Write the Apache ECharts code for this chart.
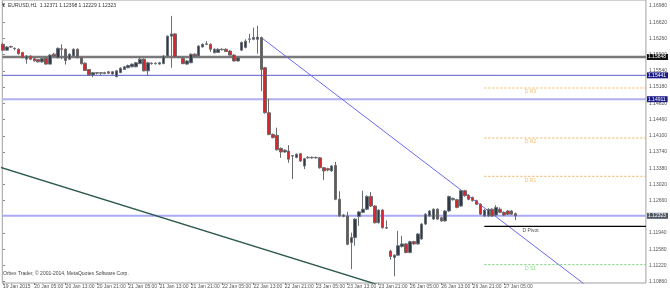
<!DOCTYPE html>
<html><head><meta charset="utf-8">
<script src="https://cdn.jsdelivr.net/npm/echarts@6/dist/echarts.min.js"></script>
<style>html,body{margin:0;padding:0;background:#fff}#c{width:670px;height:292px}</style>
</head><body><div id="c"></div>
<script>
// H1 candles, [open, high, low, close], bar index 0 = 19 Jan 21:00
const candles = [
[1.1613,1.1616,1.1598,1.1600],[1.1600,1.1609,1.1598,1.1607],[1.1608,1.1610,1.1605,1.1607],[1.1604,1.1606,1.1600,1.1603],
[1.1602,1.1604,1.1590,1.1592],[1.1595,1.1596,1.1582,1.1583],[1.1580,1.1589,1.1570,1.1587],[1.1587,1.1588,1.1578,1.1580],
[1.1581,1.1583,1.1575,1.1576],[1.1579,1.1580,1.1573,1.1574],[1.1574,1.1583,1.1572,1.1581],[1.1582,1.1583,1.1568,1.1569],
[1.1569,1.1591,1.1568,1.1589],[1.1591,1.1594,1.1585,1.1587],[1.1583,1.1606,1.1582,1.1604],[1.1603,1.1613,1.1580,1.1602],
[1.1602,1.1604,1.1568,1.1577],[1.1580,1.1593,1.1578,1.1591],[1.1587,1.1604,1.1585,1.1602],[1.1602,1.1604,1.1582,1.1583],
[1.1583,1.1585,1.1568,1.1570],[1.1571,1.1573,1.1554,1.1555],[1.1557,1.1558,1.1544,1.1545],[1.1545,1.1551,1.1540,1.1550],
[1.1550,1.1551,1.1546,1.1549],[1.1549,1.1551,1.1545,1.1550],[1.1550,1.1552,1.1547,1.1548],[1.1552,1.1553,1.1547,1.1549],
[1.1547,1.1553,1.1546,1.1552],[1.1541,1.1556,1.1540,1.1554],[1.1550,1.1562,1.1549,1.1560],[1.1557,1.1565,1.1556,1.1563],
[1.1561,1.1568,1.1560,1.1566],[1.1563,1.1570,1.1562,1.1569],[1.1563,1.1574,1.1562,1.1572],[1.1570,1.1587,1.1569,1.1580],
[1.1580,1.1582,1.1553,1.1554],[1.1554,1.1574,1.1543,1.1572],[1.1571,1.1573,1.1568,1.1570],[1.1570,1.1573,1.1568,1.1571],
[1.1569,1.1574,1.1568,1.1572],[1.1570,1.1589,1.1569,1.1587],[1.1587,1.1633,1.1585,1.1631],[1.1631,1.1676,1.1561,1.1636],
[1.1636,1.1638,1.1583,1.1585],[1.1585,1.1587,1.1582,1.1584],[1.1582,1.1585,1.1569,1.1570],[1.1569,1.1578,1.1567,1.1576],
[1.1572,1.1593,1.1571,1.1591],[1.1591,1.1593,1.1585,1.1587],[1.1587,1.1611,1.1586,1.1609],[1.1607,1.1615,1.1606,1.1613],
[1.1613,1.1620,1.1611,1.1614],[1.1613,1.1615,1.1596,1.1602],[1.1594,1.1604,1.1593,1.1602],[1.1595,1.1604,1.1594,1.1602],
[1.1602,1.1604,1.1599,1.1601],[1.1602,1.1604,1.1596,1.1597],[1.1598,1.1600,1.1588,1.1589],[1.1589,1.1591,1.1575,1.1576],
[1.1576,1.1585,1.1575,1.1583],[1.1600,1.1619,1.1598,1.1617],[1.1606,1.1624,1.1604,1.1620],[1.1624,1.1636,1.1616,1.1625],
[1.1624,1.1650,1.1622,1.1628],[1.1624,1.1654,1.1592,1.1629],[1.1628,1.1630,1.1509,1.1557],[1.1561,1.1563,1.1459,1.1461],
[1.1461,1.1492,1.1411,1.1413],[1.1413,1.1415,1.1404,1.1406],[1.1411,1.1428,1.1377,1.1379],[1.1382,1.1384,1.1361,1.1374],
[1.1374,1.1380,1.1372,1.1378],[1.1376,1.1389,1.1350,1.1358],[1.1366,1.1367,1.1314,1.1365],[1.1362,1.1371,1.1360,1.1369],
[1.1370,1.1372,1.1352,1.1354],[1.1343,1.1361,1.1336,1.1359],[1.1361,1.1365,1.1359,1.1362],[1.1362,1.1364,1.1359,1.1361],
[1.1361,1.1364,1.1359,1.1362],[1.1361,1.1363,1.1337,1.1339],[1.1339,1.1341,1.1312,1.1332],[1.1337,1.1339,1.1331,1.1334],
[1.1332,1.1345,1.1330,1.1343],[1.1344,1.1352,1.1267,1.1269],[1.1269,1.1287,1.1230,1.1232],[1.1231,1.1236,1.1229,1.1234],
[1.1232,1.1241,1.1167,1.1169],[1.1173,1.1195,1.1114,1.1184],[1.1184,1.1227,1.1166,1.1225],[1.1231,1.1243,1.1210,1.1241],
[1.1240,1.1288,1.1238,1.1247],[1.1247,1.1278,1.1245,1.1275],[1.1275,1.1285,1.1252,1.1254],[1.1254,1.1256,1.1215,1.1217],
[1.1217,1.1247,1.1215,1.1245],[1.1245,1.1247,1.1204,1.1206],[1.1206,1.1222,1.1203,1.1205],[1.1154,1.1157,1.1135,1.1142],
[1.1140,1.1147,1.1098,1.1145],[1.1145,1.1199,1.1143,1.1166],[1.1164,1.1188,1.1162,1.1170],[1.1170,1.1172,1.1149,1.1151],
[1.1151,1.1177,1.1149,1.1175],[1.1175,1.1177,1.1168,1.1170],[1.1170,1.1194,1.1168,1.1192],[1.1181,1.1216,1.1179,1.1214],
[1.1214,1.1238,1.1212,1.1236],[1.1232,1.1245,1.1230,1.1243],[1.1225,1.1249,1.1223,1.1247],[1.1247,1.1249,1.1223,1.1225],
[1.1228,1.1230,1.1219,1.1221],[1.1221,1.1245,1.1219,1.1243],[1.1243,1.1277,1.1241,1.1275],[1.1268,1.1273,1.1266,1.1271],
[1.1268,1.1270,1.1249,1.1251],[1.1254,1.1290,1.1252,1.1288],[1.1288,1.1290,1.1275,1.1277],[1.1278,1.1280,1.1267,1.1269],
[1.1273,1.1275,1.1264,1.1266],[1.1266,1.1268,1.1256,1.1258],[1.1258,1.1260,1.1234,1.1236],[1.1232,1.1247,1.1230,1.1245],
[1.1232,1.1249,1.1230,1.1247],[1.1247,1.1249,1.1230,1.1232],[1.1234,1.1256,1.1232,1.1251],[1.1247,1.1251,1.1238,1.1240],
[1.1240,1.1242,1.1232,1.1234],[1.1243,1.1245,1.1234,1.1236],[1.1243,1.1245,1.1234,1.1236],[1.12371,1.12398,1.12229,1.12323]
];
const symbolName = 'EURUSD,H1';
const timeTickIndex = [0,8,16,24,32,40,48,56,64,72,80,88,96,104,112,120,128];
const timeTickLabels = ['19 Jan 2015','20 Jan 05:00','20 Jan 13:00','20 Jan 21:00','21 Jan 05:00','21 Jan 13:00','21 Jan 21:00','22 Jan 05:00','22 Jan 13:00','22 Jan 21:00','23 Jan 05:00','23 Jan 13:00','23 Jan 21:00','26 Jan 05:00','26 Jan 13:00','26 Jan 21:00','27 Jan 05:00'];
const priceTicks = [1.16980,1.16620,1.16260,1.15900,1.15540,1.15180,1.14820,1.14460,1.14100,1.13740,1.13380,1.13020,1.12660,1.11940,1.11580,1.11220,1.10860];
const levelValues = [1.15848, 1.15441, 1.14911];
const pivotNames = ['D R3','D R2','D R1','D Pivot','D S1'];
const pivotValues = [1.1516, 1.1405, 1.1320, 1.1209, 1.1124];
const pivotStartIndex = 123;
const pivotLabelIndex = 134.8;
const blueTrend = [[66, 1.1628], [150, 1.1071]];
const greenTrend = [[-1, 1.1341], [100, 1.1068]];
const copyrightText = 'Orbex Trader, © 2001-2014, MetaQuotes Software Corp.';

const X_MIN = -0.18, X_MAX = 164.29;
const FONT = 'Liberation Sans, Arial, sans-serif';
const last = candles[candles.length - 1];
const current = last[3];
const f5 = v => v.toFixed(5);

const candleData = candles.map((c, i) => [i, c[0], c[3], c[2], c[1]]);

const levelStyles = [
  {line: {color: '#7a7a7a', width: 2.5}, bg: '#111111'},
  {line: {color: '#5c5cd0', width: 1}, bg: '#1c1c86'},
  {line: {color: '#b0b0f0', width: 2}, bg: '#1c1c86'},
  {line: {color: '#aaaaf6', width: 2}, bg: '#505a64'}
];
const levelAll = levelValues.concat([current]);
const levelSeries = levelAll.map((v, i) => ({
  type: 'line', data: [[X_MIN, v], [X_MAX, v]], symbol: 'none', silent: true, z: 1,
  clip: false,
  lineStyle: Object.assign({type: 'solid'}, levelStyles[i].line),
  endLabel: {show: true, distance: 1, formatter: f5(v), color: '#fff',
    backgroundColor: levelStyles[i].bg, padding: [1, 2, 0, 1], fontSize: 5, fontFamily: FONT}
}));

const pivotColors = ['#f5b04a','#f5b04a','#f5b04a','#000000','#6ad86a'];
const pivotSeries = [];
pivotValues.forEach((v, i) => {
  const isPivot = pivotNames[i] === 'D Pivot';
  pivotSeries.push({
    type: 'line', data: [[pivotStartIndex, v], [X_MAX, v]], symbol: 'none', silent: true, z: 2,
    lineStyle: {color: pivotColors[i], width: isPivot ? 1.2 : 1, type: isPivot ? 'solid' : [2, 2]}
  });
  pivotSeries.push({
    type: 'scatter', data: [[pivotLabelIndex, v]], symbolSize: 1, silent: true, z: 4,
    itemStyle: {color: 'rgba(0,0,0,0)'},
    label: {show: true, position: 'bottom', distance: 1, formatter: pivotNames[i],
      color: isPivot ? '#222' : pivotColors[i], fontSize: 5, fontFamily: FONT}
  });
});

const chart = echarts.init(document.getElementById('c'), null, {renderer: 'canvas'});
chart.setOption({
  animation: false,
  backgroundColor: '#fff',
  grid: {left: 1, right: 21, top: -1, bottom: 9, show: true, borderColor: '#a0a0a0', borderWidth: 1, backgroundColor: 'transparent'},
  xAxis: {
    type: 'value', min: X_MIN, max: X_MAX,
    axisLine: {show: false}, splitLine: {show: false},
    axisTick: {show: true, customValues: timeTickIndex, length: 2, inside: false, lineStyle: {color: '#888'}},
    axisLabel: {show: true, customValues: timeTickIndex, margin: 1, align: 'left', fontSize: 5, fontFamily: FONT, color: '#555',
      formatter: v => { const k = timeTickIndex.indexOf(Math.round(v)); return k >= 0 ? timeTickLabels[k] : ''; }}
  },
  yAxis: {
    type: 'value', position: 'right', min: 1.10832, max: 1.17113,
    axisLine: {show: false}, splitLine: {show: false},
    axisTick: {show: true, customValues: priceTicks, length: 2, lineStyle: {color: '#888'}},
    axisLabel: {show: true, customValues: priceTicks, margin: 3, fontSize: 5, fontFamily: FONT, color: '#555',
      formatter: v => f5(v)}
  },
  graphic: [
    {type: 'text', left: 2, top: 3, style: {text: '▼', fontSize: 4, fill: '#444', fontFamily: 'DejaVu Sans'}},
    {type: 'text', left: 8, top: 3, style: {text: symbolName + '  ' + last.map(f5).join(' '), fontSize: 5, fill: '#333', fontFamily: FONT}},
    {type: 'text', left: 3, top: 271, style: {text: copyrightText, fontSize: 5, fill: '#444', fontFamily: FONT}}
  ],
  series: [
    ...levelSeries,
    {type: 'line', data: greenTrend, symbol: 'none', silent: true, z: 2,
      lineStyle: {color: '#2e5a4c', width: 1.4}},
    {type: 'line', data: blueTrend, symbol: 'none', silent: true, z: 2,
      lineStyle: {color: '#6a6af2', width: 1}},
    ...pivotSeries,
    {type: 'candlestick', data: candleData, encode: {x: 0, y: [1, 2, 3, 4]}, barWidth: 3, z: 3,
      itemStyle: {color: '#2f3a46', color0: '#d8262c', borderColor: '#6a7078', borderColor0: '#6a6a6a', borderWidth: 1}}
  ]
});
</script>
</body></html>
